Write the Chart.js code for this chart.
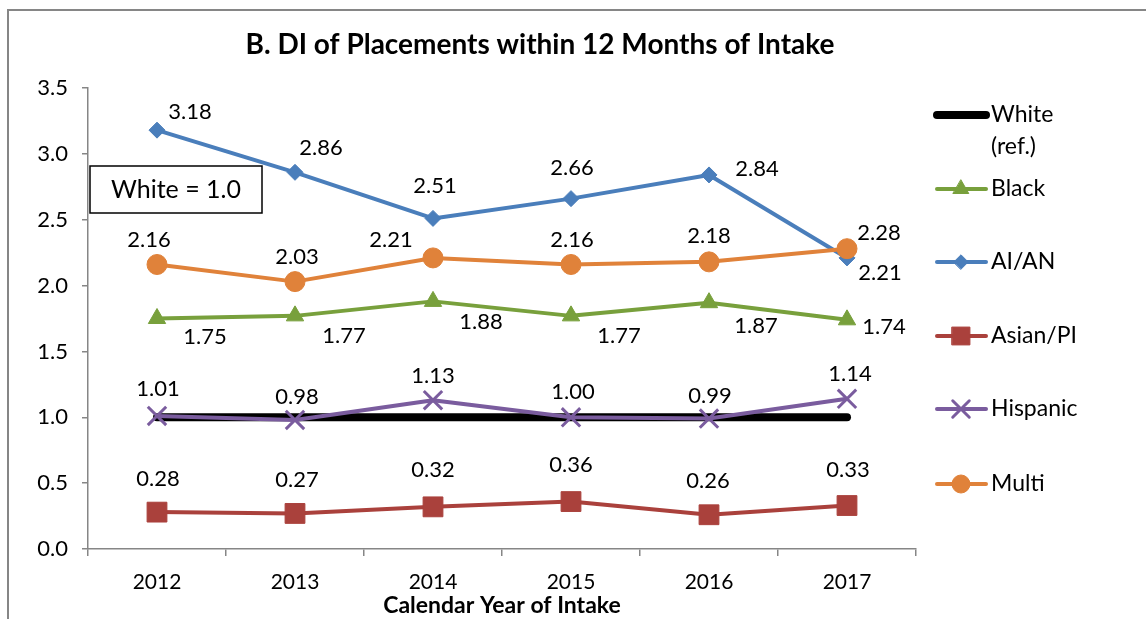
<!DOCTYPE html>
<html>
<head>
<meta charset="utf-8">
<title>DI of Placements within 12 Months of Intake</title>
<script src="https://cdn.jsdelivr.net/npm/chart.js@4.4.0/dist/chart.umd.min.js"></script>
<style>
  body { margin: 0; background: #fff; }
  #wrap { width: 1146px; height: 619px; }
</style>
</head>
<body>
<div id="wrap"><canvas id="diChart" width="1146" height="619"></canvas></div>
<script>
// categories + values
const years = ['2012', '2013', '2014', '2015', '2016', '2017'];
const whiteRef = [1.00, 1.00, 1.00, 1.00, 1.00, 1.00];
const black = [1.75, 1.77, 1.88, 1.77, 1.87, 1.74];
const aian = [3.18, 2.86, 2.51, 2.66, 2.84, 2.21];
const asianPI = [0.28, 0.27, 0.32, 0.36, 0.26, 0.33];
const hispanic = [1.01, 0.98, 1.13, 1.00, 0.99, 1.14];
const multi = [2.16, 2.03, 2.21, 2.16, 2.18, 2.28];
const yTickValues = [0, 0.5, 1.0, 1.5, 2.0, 2.5, 3.0, 3.5];
const legendLines = [['White', '(ref.)'], ['Black'], ['AI/AN'], ['Asian/PI'], ['Hispanic'], ['Multi']];

const FONT = 'Lato';

// label offsets (px from the point), roughly where Excel put them
const labelOffsets = {
    'Black': [[48, 18], [49, 20], [48, 21], [48, 20], [47, 23], [37, 7]],
    'AI/AN': [[33, -18], [26, -24], [2, -32], [1, -31], [48, -6], [33, 15]],
    'Asian/PI': [[1, -33], [2, -34], [0, -37], [0, -37], [-1, -34], [1, -36]],
    'Hispanic': [[1, -27], [2, -23], [0, -24], [2, -25], [1, -23], [3, -25]],
    'Multi': [[-8, -25], [2, -25], [-42, -18], [1, -25], [0, -26], [32, -16]]
};

function series(label, data, color, style, radius, order, extra) {
    return Object.assign({
        label: label,
        data: data,
        borderColor: color,
        backgroundColor: color,
        pointBackgroundColor: color,
        pointBorderColor: color,
        borderWidth: 4,
        borderCapStyle: 'round',
        borderJoinStyle: 'round',
        tension: 0,
        pointStyle: style,
        pointRadius: radius,
        pointHoverRadius: radius,
        pointBorderWidth: 1,
        order: order
    }, extra || {});
}

// border, title, text box, legend
const decorPlugin = {
    id: 'decor',
    beforeDraw(chart) {
        const ctx = chart.ctx;
        ctx.save();
        ctx.fillStyle = '#fff';
        ctx.fillRect(0, 0, chart.width, chart.height);
        ctx.strokeStyle = '#868686';
        ctx.lineWidth = 2;
        ctx.strokeRect(8, 10, 1400, 900);
        ctx.restore();
    },
    afterDraw(chart) {
        const ctx = chart.ctx;
        ctx.save();
        // title
        ctx.fillStyle = '#000';
        ctx.textAlign = 'center';
        ctx.textBaseline = 'middle';
        ctx.font = 'bold 28px ' + FONT;
        ctx.fillText('B. DI of Placements within 12 Months of Intake', 540, 45);

        // "White = 1.0" box
        ctx.fillStyle = '#fff';
        ctx.fillRect(90, 166, 172, 47);
        ctx.strokeStyle = '#000';
        ctx.lineWidth = 1.5;
        ctx.strokeRect(90, 166, 172, 47);
        ctx.fillStyle = '#000';
        ctx.font = '25px ' + FONT;
        ctx.fillText('White = 1.0', 176, 190);

        // legend
        const legendY = [115, 189, 262, 336, 409, 484];
        chart.data.datasets.forEach((ds, i) => {
            const y = legendY[i];
            ctx.strokeStyle = ds.borderColor;
            ctx.lineWidth = ds.borderWidth;
            ctx.lineCap = 'round';
            ctx.beginPath();
            ctx.moveTo(937, y);
            ctx.lineTo(986, y);
            ctx.stroke();
            if (ds.pointRadius > 0) {
                ctx.fillStyle = ds.pointBackgroundColor;
                ctx.strokeStyle = ds.pointBorderColor;
                ctx.lineWidth = ds.pointBorderWidth;
                Chart.helpers.drawPoint(ctx, {
                    pointStyle: ds.pointStyle,
                    radius: ds.pointRadius * 0.9,
                    rotation: 0,
                    borderWidth: ds.pointBorderWidth
                }, 961, y);
            }
            ctx.fillStyle = '#000';
            ctx.textAlign = 'left';
            ctx.textBaseline = 'middle';
            ctx.font = '23px ' + FONT;
            legendLines[i].forEach((line, k) => {
                ctx.fillText(line, 991, y + k * 32);
            });
        });
        ctx.restore();
    }
};

// value labels next to the points
const valueLabelPlugin = {
    id: 'valueLabels',
    afterDatasetsDraw(chart) {
        const ctx = chart.ctx;
        ctx.save();
        ctx.fillStyle = '#000';
        ctx.font = '22px ' + FONT;
        ctx.textAlign = 'center';
        ctx.textBaseline = 'middle';
        chart.data.datasets.forEach((ds, i) => {
            const offs = labelOffsets[ds.label];
            if (!offs) return;
            const meta = chart.getDatasetMeta(i);
            meta.data.forEach((pt, j) => {
                const o = offs[j];
                ctx.fillText(ds.data[j].toFixed(2), pt.x + o[0], pt.y + o[1]);
            });
        });
        ctx.restore();
    }
};

const ctx = document.getElementById('diChart').getContext('2d');
const diChart = new Chart(ctx, {
    type: 'line',
    data: {
        labels: years,
        datasets: [
            series('White (ref.)', whiteRef, '#000000', 'circle', 0, 6, { borderWidth: 8 }),
            series('Black', black, '#78A03C', 'triangle', 10, 5),
            series('AI/AN', aian, '#4A7EBB', 'rectRot', 8, 4),
            series('Asian/PI', asianPI, '#AA413C', 'rect', 14, 3),
            series('Hispanic', hispanic, '#7A5C9E', 'crossRot', 13, 2, { pointBorderWidth: 3 }),
            series('Multi', multi, '#E0823A', 'circle', 10, 1)
        ]
    },
    options: {
        responsive: false,
        animation: false,
        devicePixelRatio: 1,
        layout: { padding: { left: 8, right: 230, top: 88, bottom: 0 } },
        plugins: {
            legend: { display: false },
            title: { display: false },
            tooltip: { enabled: false }
        },
        scales: {
            x: {
                type: 'category',
                offset: true,
                grid: {
                    offset: true,
                    drawOnChartArea: false,
                    drawTicks: true,
                    tickLength: 7,
                    color: '#868686',
                    lineWidth: 1.5
                },
                border: { color: '#868686', width: 1.5 },
                ticks: {
                    color: '#000',
                    font: { family: FONT, size: 21 },
                    padding: 14
                },
                title: {
                    display: true,
                    text: 'Calendar Year of Intake',
                    color: '#000',
                    font: { family: FONT, size: 23, weight: 'bold' },
                    padding: { top: 0, bottom: 0 }
                },
                afterFit(scale) { scale.height = 70; }
            },
            y: {
                min: 0,
                max: 3.5,
                afterBuildTicks(scale) {
                    scale.ticks = yTickValues.map(v => ({ value: v }));
                },
                grid: {
                    drawOnChartArea: false,
                    drawTicks: true,
                    tickLength: 6,
                    color: '#868686',
                    lineWidth: 1.5
                },
                border: { color: '#868686', width: 1.5 },
                ticks: {
                    color: '#000',
                    font: { family: FONT, size: 22 },
                    padding: 14,
                    callback: v => Number(v).toFixed(1)
                },
                afterFit(scale) { scale.width = 80; }
            }
        }
    },
    plugins: [decorPlugin, valueLabelPlugin]
});
</script>
</body>
</html>
